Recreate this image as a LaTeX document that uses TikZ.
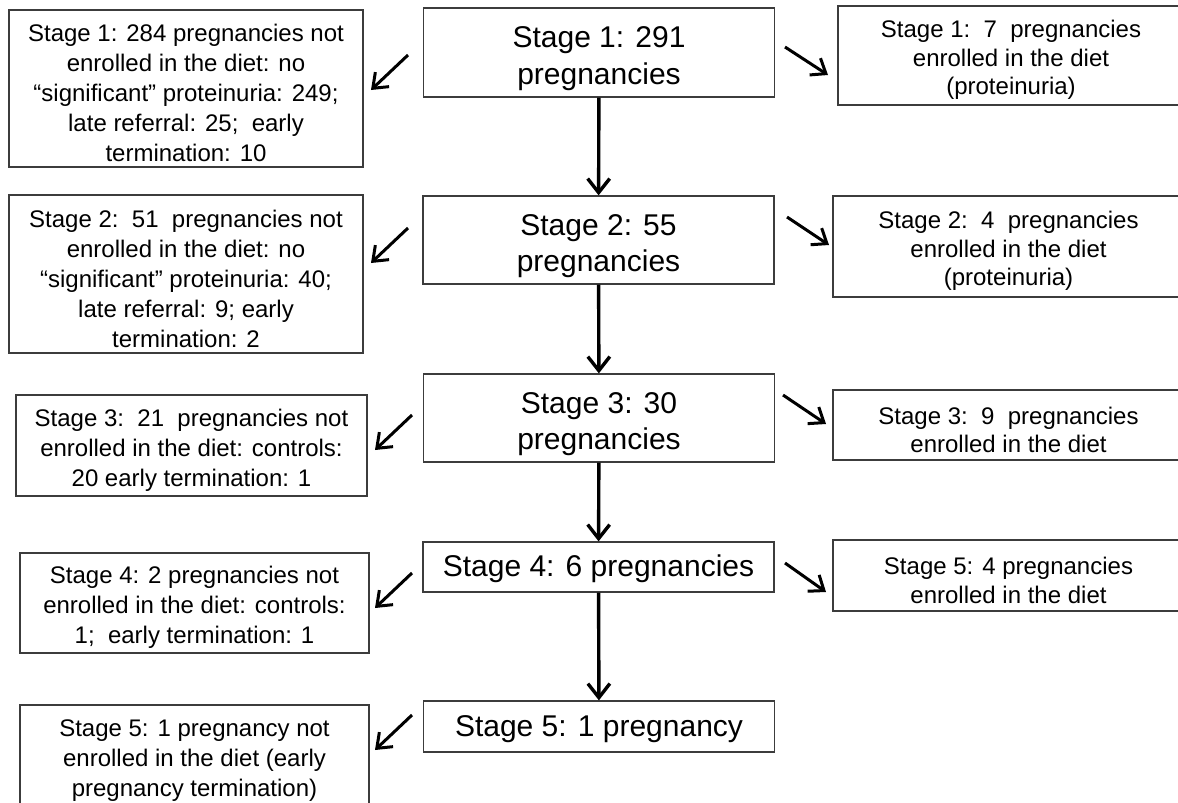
\documentclass[tikz,border=0pt]{standalone}
\usepackage{fontspec}
\setmainfont{Liberation Sans}
\usepackage{tikz}
\usetikzlibrary{positioning}
\usetikzlibrary{calc}
\usetikzlibrary{arrows.meta}
\definecolor{boxline}{RGB}{60,60,60}
% extra room above the first line of a box
\newcommand{\toproom}{\rule{0pt}{1.12em}}
\newcommand{\smallroom}{\rule{0pt}{0.87em}}
\tikzstyle{sidebox} = [draw=boxline, line width=1.3pt, align=center, inner sep=0pt,
font=\fontsize{24}{30}\selectfont]
\tikzstyle{inbox} = [sidebox, font=\fontsize{24}{28.5}\selectfont]
\tikzstyle{stagebox} = [draw=boxline, line width=1.3pt, align=center, inner sep=0pt,
minimum width=351pt, font=\fontsize{30}{36.5}\selectfont]
\tikzstyle{line} = [draw, line width=3.4pt, -{Straight Barb[length=14pt,width=22pt]}]
\tikzstyle{side} = [draw, line width=3pt, -{Straight Barb[length=13pt,width=20pt]}]

\begin{document}
\begin{tikzpicture}[x=1pt, y=-1pt]
      \useasboundingbox (0,0) rectangle (1178,803);
      \clip (0,0) rectangle (1178,803);
      %% Stages
      \node [stagebox, minimum height=89pt] (S1) at (599,52.5) {\toproom Stage 1: 291\\pregnancies};
      \node [stagebox, minimum height=88pt] (S2) at (598.5,240) {\toproom Stage 2: 55\\pregnancies};
      \node [stagebox, minimum height=88pt] (S3) at (599,418) {\toproom Stage 3: 30\\pregnancies};
      \node [stagebox, minimum height=50pt] (S4) at (598.5,567) {\smallroom Stage 4: 6 pregnancies};
      \node [stagebox, minimum height=51pt] (S5) at (599,726.5) {\smallroom Stage 5: 1 pregnancy};
      %% Not enrolled
      \node [sidebox, minimum width=354pt, minimum height=157pt] (N1) at (186,88.5)
        {\toproom Stage 1: 284 pregnancies not\\enrolled in the diet: no\\“significant” proteinuria: 249;\\late referral: 25;\ \ early\\termination: 10};
      \node [sidebox, minimum width=354pt, minimum height=158pt] (N2) at (186,274)
        {\toproom Stage 2:\ \ 51\ \ pregnancies not\\enrolled in the diet: no\\“significant” proteinuria: 40;\\late referral: 9; early\\termination: 2};
      \node [sidebox, minimum width=351pt, minimum height=101pt] (N3) at (191.5,445.5)
        {\toproom Stage 3:\ \ 21\ \ pregnancies not\\enrolled in the diet: controls:\\20 early termination: 1};
      \node [sidebox, minimum width=349pt, minimum height=100pt] (N4) at (194.5,603)
        {\toproom Stage 4: 2 pregnancies not\\enrolled in the diet: controls:\\1;\ \ early termination: 1};
      \node [sidebox, minimum width=349pt, minimum height=101pt] (N5) at (194.5,755.5)
        {\toproom Stage 5: 1 pregnancy not\\enrolled in the diet (early\\pregnancy termination)};
      %% Enrolled
      \node [inbox, minimum width=346pt, minimum height=99pt] (E1) at (1011,55.5)
        {\toproom Stage 1:\ \ 7\ \ pregnancies\\enrolled in the diet\\(proteinuria)};
      \node [inbox, minimum width=351pt, minimum height=101pt] (E2) at (1008.5,246.5)
        {\toproom Stage 2:\ \ 4\ \ pregnancies\\enrolled in the diet\\(proteinuria)};
      \node [inbox, minimum width=351pt, minimum height=70pt] (E3) at (1008.5,425)
        {\toproom Stage 3:\ \ 9\ \ pregnancies\\enrolled in the diet};
      \node [inbox, minimum width=351pt, minimum height=71pt] (E4) at (1008.5,575.5)
        {\toproom Stage 5: 4 pregnancies\\enrolled in the diet};
      %% Arrow ends
      \coordinate (n1a) at (408,55);  \coordinate (n1b) at (371,90);
      \coordinate (n2a) at (408,228); \coordinate (n2b) at (371,263);
      \coordinate (n3a) at (412,415); \coordinate (n3b) at (375,450);
      \coordinate (n4a) at (412,573); \coordinate (n4b) at (375,608);
      \coordinate (n5a) at (412,715); \coordinate (n5b) at (375,750);
      \coordinate (e1a) at (785,47);  \coordinate (e1b) at (828,75);
      \coordinate (e2a) at (787,217); \coordinate (e2b) at (829,245);
      \coordinate (e3a) at (783,395); \coordinate (e3b) at (826,424);
      \coordinate (e4a) at (785,563); \coordinate (e4b) at (826,592);
      %% Flows
      \path [line] (S1) -- (S2);
      \path [line] (S2) -- (S3);
      \path [line] (S3) -- (S4);
      \path [line] (S4) -- (S5);
      \path [side] (n1a) -- (n1b);
      \path [side] (n2a) -- (n2b);
      \path [side] (n3a) -- (n3b);
      \path [side] (n4a) -- (n4b);
      \path [side] (n5a) -- (n5b);
      \path [side] (e1a) -- (e1b);
      \path [side] (e2a) -- (e2b);
      \path [side] (e3a) -- (e3b);
      \path [side] (e4a) -- (e4b);
\end{tikzpicture}
\end{document}
